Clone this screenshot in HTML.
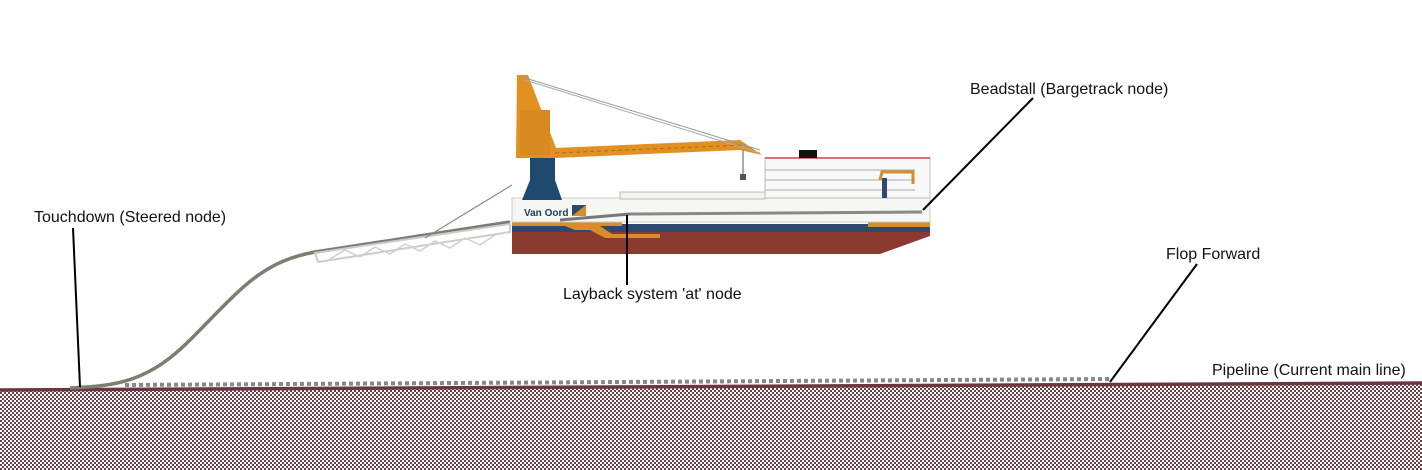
<!DOCTYPE html>
<html><head><meta charset="utf-8"><style>
html,body{margin:0;padding:0;background:#fff;width:1422px;height:470px;overflow:hidden}
svg{display:block}
text{font-family:"Liberation Sans",Arial,sans-serif;font-size:16px;fill:#111}
</style></head><body>
<svg width="1422" height="470" viewBox="0 0 1422 470" xmlns="http://www.w3.org/2000/svg">
<defs>
<pattern id="chk" width="4" height="4" patternUnits="userSpaceOnUse">
<rect width="4" height="4" fill="#fff"/>
<rect width="2" height="2" fill="#6e3d44"/>
<rect x="2" y="2" width="2" height="2" fill="#6e3d44"/>
</pattern>
</defs>
<rect width="1422" height="470" fill="#fff"/>
<!-- seabed -->
<polygon points="0,390 1422,383 1422,470 0,470" fill="url(#chk)"/>
<line x1="0" y1="390" x2="1422" y2="383" stroke="#6b3640" stroke-width="3.5"/>
<!-- dotted laid pipe -->
<line x1="125" y1="385" x2="1110" y2="379" stroke="#888" stroke-width="4" stroke-dasharray="4,3"/>
<!-- suspended pipe -->
<path d="M70,388 C120,386 150,380 190,340 C240,290 260,262 315,252 L510,222" fill="none" stroke="#7d7d72" stroke-width="3.5"/>
<!-- stinger truss -->
<path d="M315,253 L510,224 L510,232 L318,262 Z" fill="none" stroke="#ccc" stroke-width="2"/>
<path d="M330,259 L345,250 L360,257 L375,247 L390,254 L405,244 L420,251 L435,241 L450,248 L465,238 L480,245 L495,235 L508,232" fill="none" stroke="#d0d0d0" stroke-width="1.5"/>
<line x1="425" y1="238" x2="512" y2="185" stroke="#888" stroke-width="1.2"/>
<!-- hull -->
<polygon points="512,229 930,229 930,236 880,254 512,254" fill="#8a3a2e"/>
<rect x="512" y="224" width="418" height="8" fill="#2c4a6e"/>
<rect x="512" y="222" width="110" height="4" fill="#d98d2a"/>
<rect x="868" y="222" width="62" height="5" fill="#d98d2a"/>
<polygon points="565,226 600,226 612,234 660,234 660,238 605,238 590,230 575,230" fill="#d98d2a"/>
<!-- main deck white -->
<rect x="512" y="198" width="418" height="24" fill="#f6f6f2" stroke="#ccc" stroke-width="1"/>
<rect x="620" y="192" width="145" height="7" fill="#f3f3f3" stroke="#bbb" stroke-width="1"/>
<text x="524" y="216" style="font-size:10px;font-weight:bold;fill:#1f3b67">Van Oord</text>
<rect x="572" y="205" width="14" height="11" fill="#2c4a6e"/>
<polygon points="572,216 586,205 586,216" fill="#d98d2a"/>
<!-- deck pipe ramp -->
<line x1="560" y1="220" x2="630" y2="214" stroke="#777" stroke-width="3"/>
<line x1="630" y1="214" x2="922" y2="212" stroke="#888" stroke-width="3"/>
<!-- accommodation -->
<rect x="765" y="158" width="165" height="40" fill="#f8f8f8" stroke="#bbb" stroke-width="1"/>
<line x1="765" y1="158" x2="930" y2="158" stroke="#c44" stroke-width="1.5"/>
<line x1="765" y1="170" x2="915" y2="170" stroke="#aaa"/>
<line x1="765" y1="180" x2="915" y2="180" stroke="#aaa"/>
<line x1="765" y1="190" x2="915" y2="190" stroke="#aaa"/>
<rect x="799" y="150" width="18" height="8" fill="#111"/>
<rect x="882" y="178" width="5" height="20" fill="#2c4a6e"/>
<path d="M880,180 L882,172 L913,172 L913,184" fill="none" stroke="#d98d2a" stroke-width="3"/>
<!-- crane pedestal -->
<polygon points="530,155 555,155 555,180 562,200 522,200 530,180" fill="#1f4a6e"/>
<!-- crane tower -->
<polygon points="517,75 528,75 556,148 556,158 516,158" fill="#e39022"/>
<rect x="520" y="110" width="30" height="45" fill="#d88a20"/>
<!-- boom -->
<polygon points="555,148 740,140 762,155 740,150 555,158" fill="#e39022"/>
<line x1="555" y1="153" x2="745" y2="145" stroke="#b56a10" stroke-width="1" stroke-dasharray="4,3"/>
<line x1="522" y1="77" x2="760" y2="150" stroke="#999" stroke-width="1"/>
<line x1="525" y1="80" x2="760" y2="153" stroke="#aaa" stroke-width="1"/>
<line x1="743" y1="150" x2="743" y2="178" stroke="#555"/>
<rect x="740" y="174" width="6" height="6" fill="#555"/>
<!-- leader lines -->
<line x1="73" y1="228" x2="80" y2="387" stroke="#000" stroke-width="2"/>
<line x1="627" y1="215" x2="627" y2="285" stroke="#000" stroke-width="2"/>
<line x1="1033" y1="98" x2="923" y2="210" stroke="#000" stroke-width="2"/>
<line x1="1197" y1="264" x2="1110" y2="382" stroke="#000" stroke-width="2"/>
<!-- labels -->
<text x="34" y="222">Touchdown (Steered node)</text>
<text x="563" y="299">Layback system 'at' node</text>
<text x="970" y="94">Beadstall (Bargetrack node)</text>
<text x="1166" y="259">Flop Forward</text>
<text x="1212" y="375">Pipeline (Current main line)</text>
</svg>
</body></html>
